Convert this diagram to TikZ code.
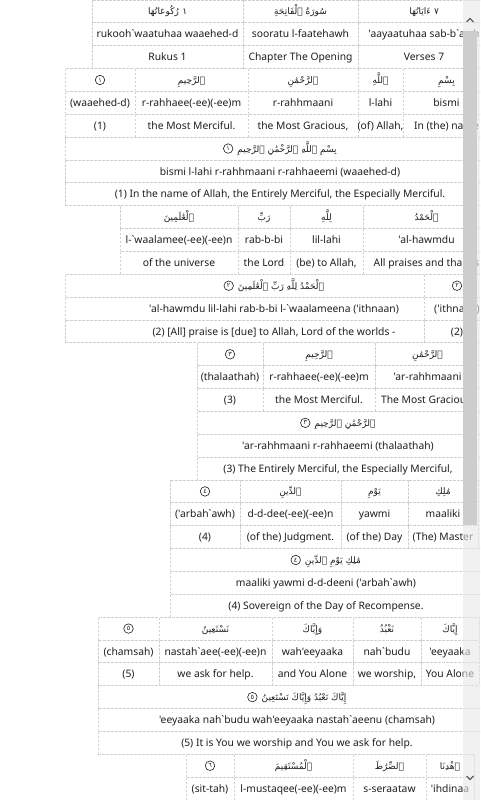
\documentclass[tikz,border=0pt]{standalone}
\usepackage{fontspec}
\setmainfont{Noto Sans}[Ligatures=TeXOff]
\newfontfamily\arabicfont[Script=Arabic]{DejaVu Sans}
\TeXXeTstate=1
\definecolor{gridc}{HTML}{D0D0D0}
\definecolor{txtc}{HTML}{1E1E1E}
\definecolor{trackc}{HTML}{E8E8E8}
\definecolor{thumbc}{HTML}{CDCDCD}
\definecolor{arrowc}{HTML}{606060}
\def\H{22.857}
\newcommand\mkcell[4]{%
  \pgfmathsetmacro\mkw{#3-#2}%
  \pgfmathsetmacro\mkx{(#2+#3)/2}%
  \pgfmathsetmacro\mky{((#4)+0.5)*\H}%
  \node[cellbox, minimum width=\mkw pt, minimum height=\H pt] (#1) at (\mkx,\mky) {};%
  \draw[grid] (#1.south west) -- (#1.north west) -- (#1.north east);%
}
\newcommand\wcol[7]{%
  \mkcell{#1a}{#2}{#3}{#4}%
  \mkcell{#1b}{#2}{#3}{#4+1}%
  \mkcell{#1c}{#2}{#3}{#4+2}%
  \node[arb] (#1at) at (#1a.center) {\beginR #5\endR};%
  \node[lat] (#1bt) at (#1b.center) {#6};%
  \node[lat] (#1ct) at (#1c.center) {#7};%
}
% header column: Arabic word with a number set to its right
\newcommand\hcol[8]{%
  \mkcell{#1a}{#2}{#3}{#4}%
  \mkcell{#1b}{#2}{#3}{#4+1}%
  \mkcell{#1c}{#2}{#3}{#4+2}%
  \node[arb] (#1at) at ([xshift=-4pt]#1a.center) {\beginR #5\endR};%
  \node[arb, anchor=west] (#1an) at ([xshift=3pt]#1at.east) {#6};%
  \node[lat] (#1bt) at (#1b.center) {#7};%
  \node[lat] (#1ct) at (#1c.center) {#8};%
}
\newcommand\acol[7]{%
  \mkcell{#1a}{#2}{#3}{#4}%
  \mkcell{#1b}{#2}{#3}{#4+1}%
  \mkcell{#1c}{#2}{#3}{#4+2}%
  \node[ayah] (#1at) at (#1a.center) {#5};%
  \node[lat] (#1bt) at (#1b.center) {#6};%
  \node[lat] (#1ct) at (#1c.center) {#7};%
}
\newcommand\wtwo[6]{%
  \mkcell{#1a}{#2}{#3}{#4}%
  \mkcell{#1b}{#2}{#3}{#4+1}%
  \node[arb] (#1at) at (#1a.center) {\beginR #5\endR};%
  \node[lat] (#1bt) at (#1b.center) {#6};%
}
\newcommand\atwo[6]{%
  \mkcell{#1a}{#2}{#3}{#4}%
  \mkcell{#1b}{#2}{#3}{#4+1}%
  \node[ayah] (#1at) at (#1a.center) {#5};%
  \node[lat] (#1bt) at (#1b.center) {#6};%
}
\newcommand\fullv[9]{%
  \mkcell{#1a}{#2}{#3}{#4}%
  \mkcell{#1b}{#2}{#3}{#4+1}%
  \mkcell{#1c}{#2}{#3}{#4+2}%
  \node[arb] (#1at) at ({#5+7},{(#4+0.5)*\H}) {\beginR #6\endR};%
  \node[ayah, anchor=east] (#1am) at ([xshift=-4pt]#1at.west) {#7};%
  \node[lat] (#1bt) at ({#5},{(#4+1.5)*\H}) {#8};%
  \node[lat] (#1ct) at ({#5},{(#4+2.5)*\H}) {#9};%
}
\begin{document}
\begin{tikzpicture}[x=1pt,y=-1pt,
  grid/.style={draw=gridc, line width=0.9pt, dash pattern=on 2.5pt off 1.5pt},
  cellbox/.style={rectangle, inner sep=0pt, outer sep=0pt},
  lat/.style={font=\fontsize{10.3}{12}\selectfont, text=txtc, inner sep=0pt, text height=7.4pt, text depth=0pt},
  arb/.style={font=\arabicfont\fontsize{9}{11}\selectfont, text=txtc, inner sep=0pt, text height=7pt, text depth=0pt},
  ayah/.style={circle, draw=txtc, line width=0.6pt, inner sep=0pt, minimum size=9.5pt, font=\arabicfont\fontsize{6.5}{7}\selectfont, text=txtc}]
\path[use as bounding box] (0,0) rectangle (480,800);
\clip (0,0) rectangle (480,800);
\fill[white] (0,0) rectangle (480,800);
% header
\hcol{h1}{358}{490}{0}{ءَايَاتُهَا}{٧}{'aayaatuhaa sab-b`awh}{Verses 7}
\wcol{h2}{243}{358}{0}{سُورَةُ ٱلْفَاتِحَةِ}{sooratu l-faatehawh}{Chapter The Opening}
\hcol{h3}{92}{243}{0}{رُكُوعَاتُهَا}{١}{rukooh`waatuhaa waaehed-d}{Rukus 1}
% verse 1
\wcol{v1w1}{403}{490}{3}{بِسْمِ}{bismi}{In (the) name}
\wcol{v1w2}{358}{403}{3}{ٱللَّهِ}{l-lahi}{(of) Allah,}
\wcol{v1w3}{248}{358}{3}{ٱلرَّحْمَٰنِ}{r-rahhmaani}{the Most Gracious,}
\wcol{v1w4}{135}{248}{3}{ٱلرَّحِيمِ}{r-rahhaee(-ee)(-ee)m}{the Most Merciful.}
\acol{v1w5}{65}{135}{3}{١}{(waaehed-d)}{(1)}
\fullv{v1f}{65}{495}{6}{280}{بِسْمِ ٱللَّهِ ٱلرَّحْمَٰنِ ٱلرَّحِيمِ}{١}{bismi l-lahi r-rahhmaani r-rahhaeemi (waaehed-d)}{(1) In the name of Allah, the Entirely Merciful, the Especially Merciful.}
% verse 2
\wcol{v2w1}{363}{490}{9}{ٱلْحَمْدُ}{'al-hawmdu}{All praises and thanks}
\wcol{v2w2}{290}{363}{9}{لِلَّهِ}{lil-lahi}{(be) to Allah,}
\wcol{v2w3}{238}{290}{9}{رَبِّ}{rab-b-bi}{the Lord}
\wcol{v2w4}{120}{238}{9}{ٱلْعَٰلَمِينَ}{l-`waalamee(-ee)(-ee)n}{of the universe}
\acol{v2n}{424}{490}{12}{٢}{('ithnaan)}{(2)}
\fullv{v2f}{65}{424}{12}{274}{ٱلْحَمْدُ لِلَّهِ رَبِّ ٱلْعَٰلَمِينَ}{٢}{'al-hawmdu lil-lahi rab-b-bi l-`waalameena ('ithnaan)}{(2) [All] praise is [due] to Allah, Lord of the worlds -}
% verse 3
\wcol{v3w1}{375}{480}{15}{ٱلرَّحْمَٰنِ}{'ar-rahhmaani}{The Most Gracious,}
\wcol{v3w2}{263}{375}{15}{ٱلرَّحِيمِ}{r-rahhaee(-ee)(-ee)m}{the Most Merciful.}
\acol{v3w3}{197}{263}{15}{٣}{(thalaathah)}{(3)}
\fullv{v3f}{197}{480}{18}{338}{ٱلرَّحْمَٰنِ ٱلرَّحِيمِ}{٣}{'ar-rahhmaani r-rahhaeemi (thalaathah)}{(3) The Entirely Merciful, the Especially Merciful,}
% verse 4
\wcol{v4w1}{408}{478}{21}{مَٰلِكِ}{maaliki}{(The) Master}
\wcol{v4w2}{341}{408}{21}{يَوْمِ}{yawmi}{(of the) Day}
\wcol{v4w3}{240}{341}{21}{ٱلدِّينِ}{d-d-dee(-ee)(-ee)n}{(of the) Judgment.}
\acol{v4w4}{170}{240}{21}{٤}{('arbah`awh)}{(4)}
\fullv{v4f}{170}{482}{24}{326}{مَٰلِكِ يَوْمِ ٱلدِّينِ}{٤}{maaliki yawmi d-d-deeni ('arbah`awh)}{(4) Sovereign of the Day of Recompense.}
% verse 5
\wcol{v5w1}{421}{479}{27}{إِيَّاكَ}{'eeyaaka}{You Alone}
\wcol{v5w2}{353}{421}{27}{نَعْبُدُ}{nah`budu}{we worship,}
\wcol{v5w3}{272}{353}{27}{وَإِيَّاكَ}{wah'eeyaaka}{and You Alone}
\wcol{v5w4}{159}{272}{27}{نَسْتَعِينُ}{nastah`aee(-ee)(-ee)n}{we ask for help.}
\acol{v5w5}{98}{159}{27}{٥}{(chamsah)}{(5)}
\fullv{v5f}{98}{496}{30}{297}{إِيَّاكَ نَعْبُدُ وَإِيَّاكَ نَسْتَعِينُ}{٥}{'eeyaaka nah`budu wah'eeyaaka nastah`aeenu (chamsah)}{(5) It is You we worship and You we ask for help.}
% verse 6
\wtwo{v6w1}{426}{474}{33}{ٱهْدِنَا}{'ihdinaa}
\wtwo{v6w2}{353}{426}{33}{ٱلصِّرَٰطَ}{s-seraataw}
\wtwo{v6w3}{234}{353}{33}{ٱلْمُسْتَقِيمَ}{l-mustaqee(-ee)(-ee)m}
\atwo{v6w4}{186}{234}{33}{٦}{(sit-tah)}
% uncovered bottom and right edges
\draw[grid] (v1fc.south west) -- (v2w4a.north west);
\draw[grid] (v2fc.south west) -- (v3w3a.north west);
\draw[grid] (v5fc.south west) -- (v6w4a.north west);
\draw[grid] (v4w1a.north east) -- (v4w1c.south east);
\draw[grid] (v5w1a.north east) -- (v5w1c.south east);
\draw[grid] (v6w1a.north east) -- (v6w1b.south east);
% scrollbar
\fill[trackc, fill opacity=0.6] (463,0) rectangle (480,800);
\fill[thumbc] (463,31) rectangle (477,525);
\draw[arrowc, line width=1.3pt] (466.5,22) -- (470,18.5) -- (473.5,22);
\draw[arrowc, line width=1.3pt] (466.5,776) -- (470,779.5) -- (473.5,776);
\end{tikzpicture}
\end{document}
